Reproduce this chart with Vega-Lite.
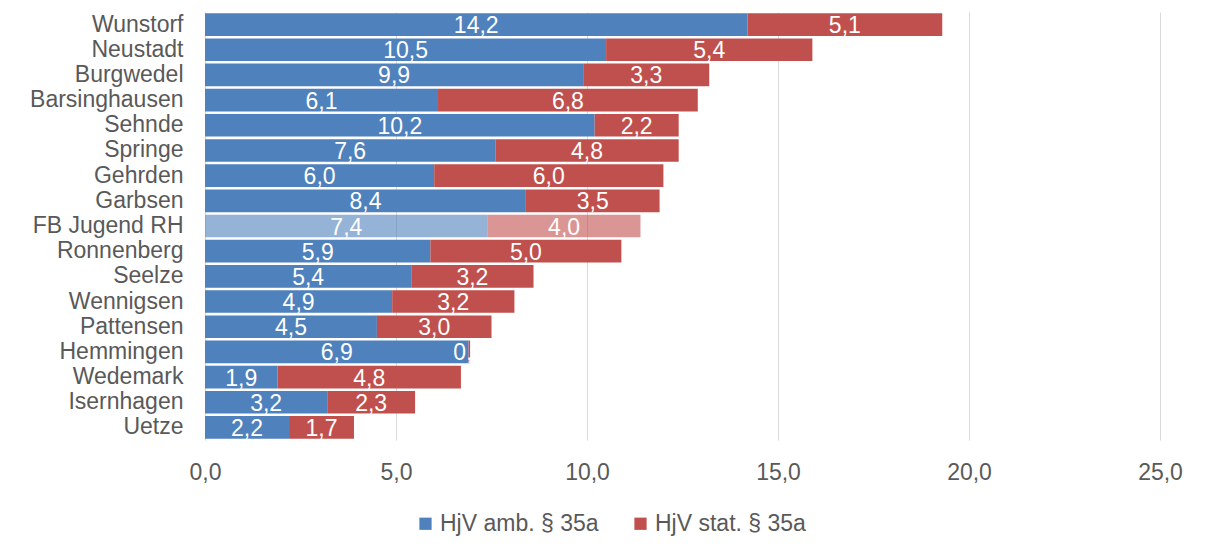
{
  "$schema": "https://vega.github.io/schema/vega-lite/v6.json",
  "width": 955,
  "height": 428,
  "autosize": {"type": "none"},
  "padding": {"left": 205, "top": 12, "right": 46, "bottom": 112},
  "background": "white",
  "config": {
    "locale": {"number": {"decimal": ",", "thousands": ".", "grouping": [3], "currency": ["", " €"]}},
    "font": "Liberation Sans",
    "view": {"stroke": null}
  },
  "data": {
    "values": [
      {"region": "Wunstorf", "serie": "HjV amb. § 35a", "wert": 14.2},
      {"region": "Wunstorf", "serie": "HjV stat. § 35a", "wert": 5.1},
      {"region": "Neustadt", "serie": "HjV amb. § 35a", "wert": 10.5},
      {"region": "Neustadt", "serie": "HjV stat. § 35a", "wert": 5.4},
      {"region": "Burgwedel", "serie": "HjV amb. § 35a", "wert": 9.9},
      {"region": "Burgwedel", "serie": "HjV stat. § 35a", "wert": 3.3},
      {"region": "Barsinghausen", "serie": "HjV amb. § 35a", "wert": 6.1},
      {"region": "Barsinghausen", "serie": "HjV stat. § 35a", "wert": 6.8},
      {"region": "Sehnde", "serie": "HjV amb. § 35a", "wert": 10.2},
      {"region": "Sehnde", "serie": "HjV stat. § 35a", "wert": 2.2},
      {"region": "Springe", "serie": "HjV amb. § 35a", "wert": 7.6},
      {"region": "Springe", "serie": "HjV stat. § 35a", "wert": 4.8},
      {"region": "Gehrden", "serie": "HjV amb. § 35a", "wert": 6.0},
      {"region": "Gehrden", "serie": "HjV stat. § 35a", "wert": 6.0},
      {"region": "Garbsen", "serie": "HjV amb. § 35a", "wert": 8.4},
      {"region": "Garbsen", "serie": "HjV stat. § 35a", "wert": 3.5},
      {"region": "FB Jugend RH", "serie": "HjV amb. § 35a", "wert": 7.4},
      {"region": "FB Jugend RH", "serie": "HjV stat. § 35a", "wert": 4.0},
      {"region": "Ronnenberg", "serie": "HjV amb. § 35a", "wert": 5.9},
      {"region": "Ronnenberg", "serie": "HjV stat. § 35a", "wert": 5.0},
      {"region": "Seelze", "serie": "HjV amb. § 35a", "wert": 5.4},
      {"region": "Seelze", "serie": "HjV stat. § 35a", "wert": 3.2},
      {"region": "Wennigsen", "serie": "HjV amb. § 35a", "wert": 4.9},
      {"region": "Wennigsen", "serie": "HjV stat. § 35a", "wert": 3.2},
      {"region": "Pattensen", "serie": "HjV amb. § 35a", "wert": 4.5},
      {"region": "Pattensen", "serie": "HjV stat. § 35a", "wert": 3.0},
      {"region": "Hemmingen", "serie": "HjV amb. § 35a", "wert": 6.9},
      {"region": "Hemmingen", "serie": "HjV stat. § 35a", "wert": 0.04},
      {"region": "Wedemark", "serie": "HjV amb. § 35a", "wert": 1.9},
      {"region": "Wedemark", "serie": "HjV stat. § 35a", "wert": 4.8},
      {"region": "Isernhagen", "serie": "HjV amb. § 35a", "wert": 3.2},
      {"region": "Isernhagen", "serie": "HjV stat. § 35a", "wert": 2.3},
      {"region": "Uetze", "serie": "HjV amb. § 35a", "wert": 2.2},
      {"region": "Uetze", "serie": "HjV stat. § 35a", "wert": 1.7}
    ]
  },
  "transform": [
    {"stack": "wert", "groupby": ["region"], "sort": [{"field": "serie", "order": "ascending"}], "as": ["x0", "x1"]},
    {"calculate": "(datum.x0 + datum.x1) / 2", "as": "xmid"}
  ],
  "encoding": {
    "y": {
      "field": "region",
      "type": "nominal",
      "sort": null,
      "title": null,
      "scale": {"paddingInner": 0.1, "paddingOuter": 0.05},
      "axis": {
        "ticks": false,
        "domain": true,
        "domainColor": "#D9D9D9",
        "labelFontSize": 23,
        "labelColor": "#595959",
        "labelPadding": 22,
        "labelFont": "Liberation Sans"
      }
    }
  },
  "layer": [
    {
      "mark": {"type": "bar", "strokeWidth": 0},
      "encoding": {
        "x": {
          "field": "x0",
          "type": "quantitative",
          "title": null,
          "scale": {"domain": [0, 25], "nice": false},
          "axis": {
            "values": [0, 5, 10, 15, 20, 25],
            "format": ".1f",
            "grid": true,
            "gridColor": "#D9D9D9",
            "domain": false,
            "ticks": false,
            "labelFlush": false,
            "labelOverlap": false,
            "labelFontSize": 23,
            "labelColor": "#595959",
            "labelPadding": 21,
            "labelFont": "Liberation Sans"
          }
        },
        "x2": {"field": "x1"},
        "color": {
          "field": "serie",
          "type": "nominal",
          "scale": {"domain": ["HjV amb. § 35a", "HjV stat. § 35a"], "range": ["#4F81BD", "#C0504D"]},
          "legend": {
            "title": null,
            "orient": "none",
            "direction": "horizontal",
            "legendX": 209,
            "legendY": 500,
            "symbolType": "square",
            "symbolSize": 150,
            "symbolStrokeWidth": 0,
            "symbolOpacity": 1,
            "labelFontSize": 23,
            "labelColor": "#595959",
            "labelFont": "Liberation Sans",
            "columnPadding": 30,
            "labelOffset": 3
          }
        },
        "opacity": {
          "condition": {"test": "datum.region === 'FB Jugend RH'", "value": 0.6},
          "value": 1
        }
      }
    },
    {
      "mark": {"type": "text", "color": "white", "fontSize": 23, "baseline": "middle", "align": "center", "dy": 1.5, "font": "Liberation Sans"},
      "encoding": {
        "x": {"field": "xmid", "type": "quantitative"},
        "text": {"field": "wert", "type": "quantitative", "format": ".1f"}
      }
    }
  ]
}
